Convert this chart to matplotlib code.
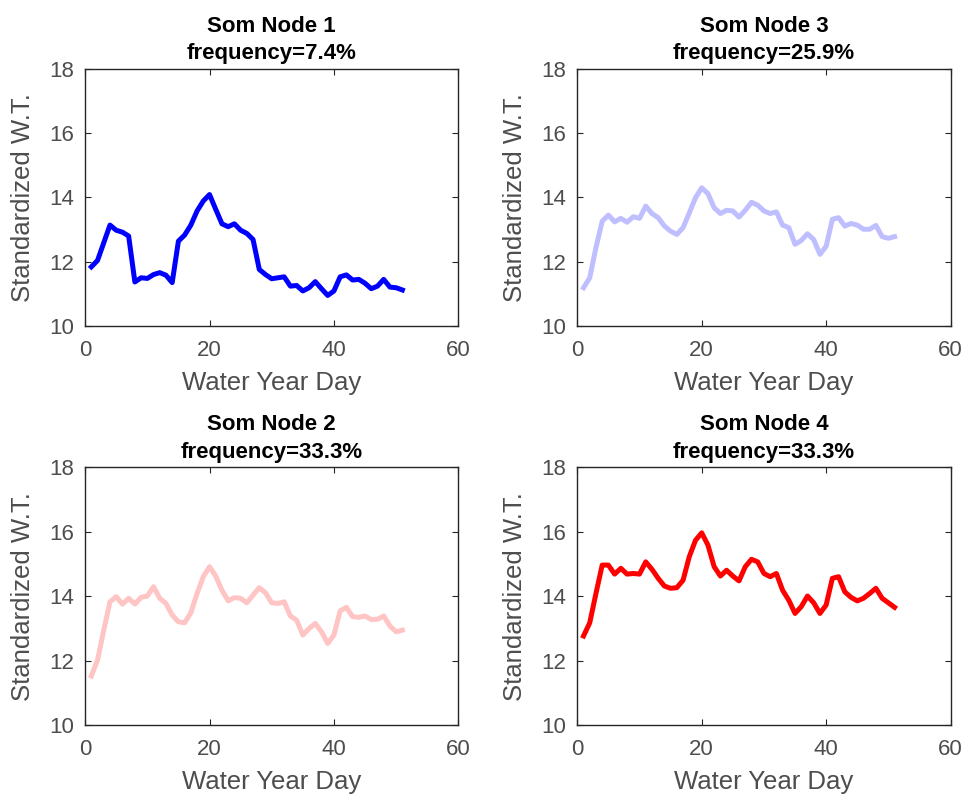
import numpy as np
import matplotlib
matplotlib.use("Agg")
import matplotlib.pyplot as plt

plt.rcParams.update({'font.family': ['Liberation Sans', 'DejaVu Sans']})

days = np.arange(1, 52)

node1 = [11.84, 12.04, 12.59, 13.14, 12.98, 12.92, 12.80, 11.37, 11.50, 11.48,
         11.60, 11.66, 11.58, 11.35, 12.64, 12.83, 13.14, 13.58, 13.89, 14.09,
         13.63, 13.18, 13.09, 13.18, 12.98, 12.88, 12.69, 11.76, 11.60, 11.47,
         11.50, 11.53, 11.24, 11.26, 11.09, 11.19, 11.38, 11.16, 10.95, 11.09,
         11.53, 11.59, 11.43, 11.45, 11.33, 11.16, 11.24, 11.45, 11.21, 11.19,
         11.12]
node3 = [11.19, 11.50, 12.44, 13.26, 13.45, 13.24, 13.35, 13.23, 13.40, 13.35,
         13.73, 13.50, 13.37, 13.11, 12.95, 12.85, 13.06, 13.52, 13.99, 14.30,
         14.12, 13.68, 13.50, 13.60, 13.58, 13.39, 13.60, 13.85, 13.76, 13.58,
         13.50, 13.55, 13.14, 13.06, 12.54, 12.66, 12.87, 12.69, 12.23, 12.48,
         13.32, 13.37, 13.11, 13.19, 13.14, 13.01, 13.01, 13.13, 12.78, 12.73,
         12.78]
node2 = [11.53, 12.02, 12.95, 13.83, 13.99, 13.76, 13.94, 13.76, 13.97, 14.01,
         14.30, 13.94, 13.78, 13.42, 13.21, 13.18, 13.49, 14.09, 14.61, 14.92,
         14.63, 14.19, 13.86, 13.96, 13.94, 13.80, 14.04, 14.27, 14.11, 13.80,
         13.78, 13.83, 13.39, 13.26, 12.80, 13.00, 13.16, 12.90, 12.54, 12.80,
         13.55, 13.66, 13.37, 13.35, 13.39, 13.28, 13.29, 13.39, 13.08, 12.90,
         12.95]
node4 = [12.77, 13.18, 14.09, 14.97, 14.97, 14.69, 14.87, 14.69, 14.71, 14.69,
         15.07, 14.84, 14.56, 14.32, 14.25, 14.27, 14.50, 15.23, 15.74, 15.97,
         15.59, 14.92, 14.63, 14.81, 14.63, 14.48, 14.92, 15.15, 15.07, 14.71,
         14.61, 14.71, 14.19, 13.88, 13.47, 13.68, 14.01, 13.80, 13.47, 13.73,
         14.56, 14.61, 14.14, 13.97, 13.86, 13.94, 14.09, 14.25, 13.94, 13.80,
         13.66]

titles = ['Som Node 1\nfrequency=7.4%', 'Som Node 3\nfrequency=25.9%',
          'Som Node 2\nfrequency=33.3%', 'Som Node 4\nfrequency=33.3%']
series = [node1, node3, node2, node4]
colors = ['#0000ff', '#bfbfff', '#ffc4c4', '#ff0000']

# axes boxes in figure fractions: top-left, top-right, bottom-left, bottom-right
boxes = [[0.088, 0.591, 0.386, 0.3225],
         [0.597, 0.591, 0.386, 0.3225],
         [0.088, 0.090, 0.386, 0.3235],
         [0.597, 0.090, 0.386, 0.3235]]

fig = plt.figure(figsize=(9.67, 7.97), dpi=100)
for box, y, c, t in zip(boxes, series, colors, titles):
    ax = fig.add_axes(box)
    ax.plot(days, y, color=c, linewidth=3.6, solid_joinstyle='round')
    ax.set_xlim(0, 60)
    ax.set_ylim(10, 18)
    ax.set_xticks([0, 20, 40, 60])
    ax.set_yticks([10, 12, 14, 16, 18])
    ax.tick_params(direction='in', top=True, right=True, labelsize=16,
                   labelcolor='#4d4d4d', color='#262626', length=4)
    ax.tick_params(axis='x', pad=10)
    ax.tick_params(axis='y', pad=8)
    for s in ax.spines.values():
        s.set_color('#262626')
        s.set_linewidth(1.0)
    ax.set_xlabel('Water Year Day', fontsize=18.5, color='#4d4d4d', labelpad=7)
    ax.set_ylabel('Standardized W.T.', fontsize=18.5, color='#4d4d4d', labelpad=10)
    ax.set_title(t, fontsize=16, fontweight='bold', linespacing=1.4, pad=7)

plt.savefig('out.png', dpi=100)
